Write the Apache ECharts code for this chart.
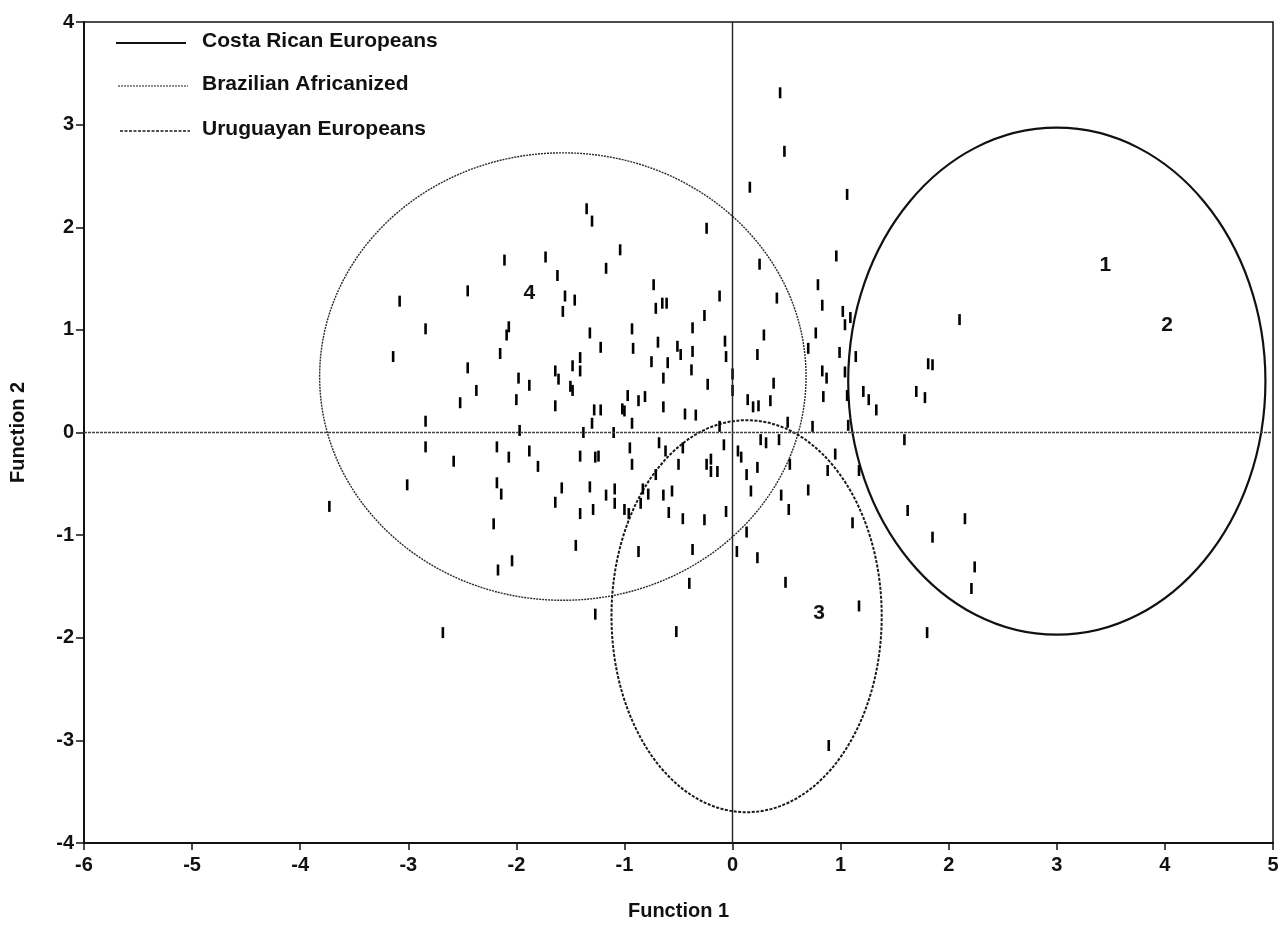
<!DOCTYPE html>
<html>
<head>
<meta charset="utf-8">
<script src="https://cdn.jsdelivr.net/npm/echarts@6/dist/echarts.min.js"></script>
<style>
html,body{margin:0;padding:0;background:#fff;}
#chart{width:1282px;height:926px;}
</style>
</head>
<body>
<div id="chart"></div>
<script>
// ---- Data ----
const xTicks = [-6, -5, -4, -3, -2, -1, 0, 1, 2, 3, 4, 5];
const yTicks = [-4, -3, -2, -1, 0, 1, 2, 3, 4];

const groupNames = ['Costa Rican Europeans', 'Brazilian Africanized', 'Uruguayan Europeans'];
// ellipse: [centerX, centerY, semiAxisX, semiAxisY]
const ellipseCostaRican = [3.0, 0.50, 1.93, 2.47];
const ellipseBrazilian = [-1.57, 0.545, 2.25, 2.18];
const ellipseUruguayan = [0.13, -1.79, 1.25, 1.91];

const groupLabels = ['1', '2', '3', '4'];
const groupLabelPos = [[3.45, 1.63], [4.02, 1.05], [0.80, -1.76], [-1.88, 1.36]];

const casePoints = [
  [-2.11,1.68],[-1.73,1.71],[-1.62,1.53],[-2.45,1.38],[-3.08,1.28],[-1.55,1.33],[-1.46,1.29],[-1.57,1.18],
  [-2.84,1.01],[-2.07,1.03],[-2.09,0.95],[-3.14,0.74],[-2.15,0.77],[-2.45,0.63],[-1.41,0.73],[-1.48,0.65],
  [-1.41,0.60],[-1.98,0.53],[-1.88,0.46],[-1.64,0.60],[-1.61,0.52],[-1.50,0.45],[-1.48,0.41],[-2.37,0.41],
  [-2.52,0.29],[-2.00,0.32],[-1.64,0.26],[-2.84,0.11],[-1.97,0.02],
  [-2.84,-0.14],[-2.18,-0.14],[-2.07,-0.24],[-1.88,-0.18],[-1.41,-0.23],[-1.80,-0.33],[-2.58,-0.28],
  [-3.01,-0.51],[-2.18,-0.49],[-2.14,-0.60],[-1.58,-0.54],[-1.64,-0.68],[-1.41,-0.79],[-3.73,-0.72],
  [-2.21,-0.89],[-1.45,-1.10],[-2.04,-1.25],[-2.17,-1.34],[-2.68,-1.95],
  [0.16,2.39],[1.06,2.32],[-1.35,2.18],[-1.30,2.06],[-0.24,1.99],[-1.04,1.78],[0.96,1.72],[0.25,1.64],
  [-1.17,1.60],[0.79,1.44],[-0.73,1.44],[-0.12,1.33],[-0.71,1.21],[-0.65,1.26],[-0.61,1.26],[0.41,1.31],
  [0.83,1.24],[1.02,1.18],[1.09,1.12],[1.04,1.05],[-0.26,1.14],[-0.93,1.01],[-1.32,0.97],[-0.37,1.02],
  [0.77,0.97],[0.29,0.95],[-0.92,0.82],[-1.22,0.83],[-0.69,0.88],[-0.51,0.84],[-0.48,0.76],[-0.37,0.79],
  [-0.07,0.89],[-0.06,0.74],[0.23,0.76],[0.70,0.82],[0.99,0.78],[1.14,0.74],[-0.75,0.69],[-0.60,0.68],
  [-0.38,0.61],[0.00,0.57],[0.83,0.60],[0.87,0.53],[1.04,0.59],[-0.64,0.53],[-0.23,0.47],[0.38,0.48],
  [0.00,0.41],[-0.97,0.36],[-0.87,0.31],[-0.81,0.35],[-0.64,0.25],[0.14,0.32],[0.19,0.25],[0.24,0.26],
  [0.35,0.31],[0.84,0.35],[1.06,0.36],[1.21,0.40],[1.26,0.32],[1.33,0.22],[-1.28,0.22],[-1.22,0.22],
  [-1.02,0.23],[-1.00,0.21],[-0.44,0.18],[-0.34,0.17],[-1.30,0.09],[-0.93,0.09],[-0.12,0.06],[0.51,0.10],
  [0.74,0.06],[1.07,0.07],[-1.38,0.00],[-1.10,0.00],
  [0.26,-0.07],[0.31,-0.10],[0.43,-0.07],[-0.68,-0.10],[-0.95,-0.15],[-0.62,-0.18],[-0.46,-0.15],
  [-0.08,-0.12],[0.05,-0.18],[0.08,-0.24],[-1.27,-0.24],[-1.24,-0.23],[-0.93,-0.31],[-0.50,-0.31],
  [-0.24,-0.31],[-0.20,-0.26],[-0.20,-0.38],[-0.14,-0.38],[0.13,-0.41],[0.23,-0.34],[0.53,-0.31],
  [0.95,-0.21],[0.88,-0.37],[1.17,-0.37],[-0.71,-0.41],[-1.32,-0.53],[-1.17,-0.61],[-1.09,-0.55],
  [-1.09,-0.69],[-0.83,-0.55],[-0.78,-0.60],[-0.85,-0.69],[-0.64,-0.61],[-0.56,-0.57],[0.17,-0.57],
  [0.45,-0.61],[0.70,-0.56],[0.52,-0.75],[-1.29,-0.75],[-1.00,-0.75],[-0.96,-0.79],[-0.59,-0.78],
  [-0.46,-0.84],[-0.26,-0.85],[-0.06,-0.77],[0.13,-0.97],[1.11,-0.88],[-0.87,-1.16],[-0.37,-1.14],
  [0.04,-1.16],[0.23,-1.22],[-0.40,-1.47],[0.49,-1.46],[-1.27,-1.77],[1.17,-1.69],[-0.52,-1.94],
  [2.10,1.10],[1.81,0.67],[1.85,0.66],[1.70,0.40],[1.78,0.34],[1.59,-0.07],[1.62,-0.76],[2.15,-0.84],
  [1.85,-1.02],[2.24,-1.31],[2.21,-1.52],[1.80,-1.95],
  [0.44,3.31],[0.48,2.74],[0.89,-3.05]
];

// ---- Chart ----
const INK = '#111111';
const FONT = '"Liberation Sans", Arial, Helvetica, sans-serif';
const chart = echarts.init(document.getElementById('chart'), null, {renderer: 'canvas'});

const ellipseStyles = [
  {stroke: INK, lineWidth: 2.2, lineDash: null},
  {stroke: '#2a2a2a', lineWidth: 1.4, lineDash: [2, 1]},
  {stroke: '#1a1a1a', lineWidth: 2.0, lineDash: [3, 1.5]}
];
const ellipses = [ellipseCostaRican, ellipseBrazilian, ellipseUruguayan];

function ellipseSeries(idx) {
  return {
    type: 'custom',
    name: groupNames[idx],
    coordinateSystem: 'cartesian2d',
    silent: true,
    z: 3,
    data: [ellipses[idx]],
    encode: {x: 0, y: 1},
    renderItem: function (params, api) {
      const c = api.coord([api.value(0), api.value(1)]);
      const s = api.size([api.value(2), api.value(3)]);
      const st = ellipseStyles[idx];
      return {
        type: 'ellipse',
        shape: {cx: c[0], cy: c[1], rx: s[0], ry: s[1]},
        style: {fill: 'none', stroke: st.stroke, lineWidth: st.lineWidth, lineDash: st.lineDash}
      };
    }
  };
}

const legendY = [43, 86, 131];
const legendGraphics = [];
groupNames.forEach(function (name, i) {
  const st = ellipseStyles[i];
  legendGraphics.push({
    type: 'line',
    shape: {x1: 116 + i * 2, y1: legendY[i], x2: 186 + i * 2, y2: legendY[i]},
    style: {stroke: i === 1 ? '#666' : st.stroke, lineWidth: i === 0 ? 2 : 1.5, lineDash: st.lineDash}
  });
  legendGraphics.push({
    type: 'text',
    left: 202,
    top: legendY[i] - 12,
    style: {text: name, fill: INK, font: 'bold 21px ' + FONT}
  });
});

const option = {
  backgroundColor: '#ffffff',
  animation: false,
  grid: {left: 80, right: 9, top: 22, bottom: 79, show: true, borderColor: INK, borderWidth: 1.5},
  xAxis: {
    type: 'value', min: xTicks[0], max: xTicks[xTicks.length - 1], interval: 1,
    name: 'Function 1', nameLocation: 'middle', nameGap: 58,
    nameTextStyle: {color: INK, fontFamily: FONT, fontWeight: 'bold', fontSize: 20},
    axisLine: {onZero: false, lineStyle: {color: INK, width: 2}},
    axisTick: {show: true, length: 7, lineStyle: {color: INK, width: 1.5}},
    axisLabel: {color: INK, fontFamily: FONT, fontWeight: 'bold', fontSize: 20, margin: 12},
    splitLine: {show: false}
  },
  yAxis: {
    type: 'value', min: yTicks[0], max: yTicks[yTicks.length - 1], interval: 1,
    name: 'Function 2', nameLocation: 'middle', nameGap: 56, nameRotate: 90,
    nameTextStyle: {color: INK, fontFamily: FONT, fontWeight: 'bold', fontSize: 20},
    axisLine: {onZero: false, lineStyle: {color: INK, width: 2}},
    axisTick: {show: true, length: 8, lineStyle: {color: INK, width: 1.5}},
    axisLabel: {color: INK, fontFamily: FONT, fontWeight: 'bold', fontSize: 20, margin: 10},
    splitLine: {show: false}
  },
  graphic: legendGraphics,
  series: [
    {
      type: 'scatter',
      name: 'cases',
      data: casePoints,
      symbol: 'rect',
      symbolSize: [2.6, 11],
      itemStyle: {color: '#000', opacity: 1},
      silent: true,
      z: 4,
      markLine: {
        silent: true,
        symbol: 'none',
        label: {show: false},
        data: [
          {xAxis: 0, lineStyle: {color: '#222', width: 1.4, type: 'solid'}},
          {yAxis: 0, lineStyle: {color: '#444', width: 1.4, type: [3, 1]}}
        ]
      }
    },
    ellipseSeries(0),
    ellipseSeries(1),
    ellipseSeries(2),
    {
      type: 'scatter',
      name: 'groups',
      data: groupLabelPos.map(function (p, i) { return {value: p, name: groupLabels[i]}; }),
      symbolSize: 1,
      itemStyle: {color: 'rgba(0,0,0,0)'},
      silent: true,
      z: 5,
      label: {
        show: true, position: 'inside', formatter: '{b}', opacity: 1,
        color: '#111', fontFamily: FONT, fontWeight: 'bold', fontSize: 21
      }
    }
  ]
};
chart.setOption(option);
</script>
</body>
</html>
